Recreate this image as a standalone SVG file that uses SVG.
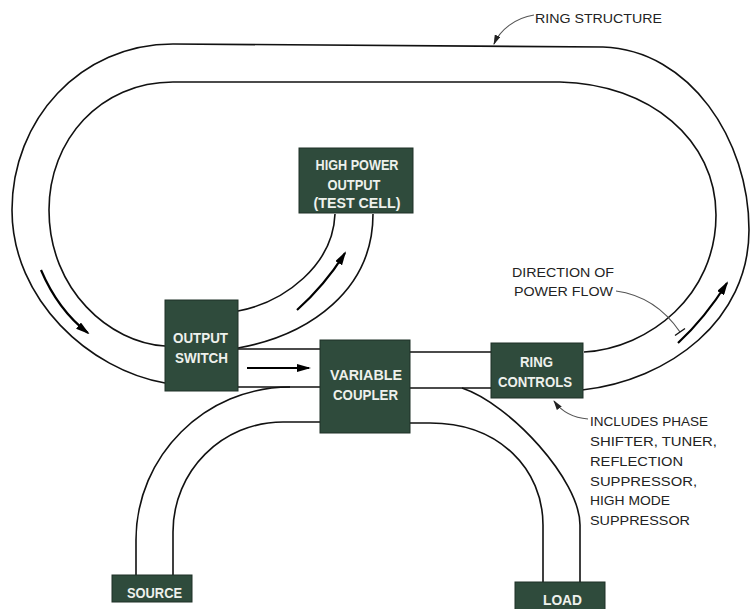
<svg xmlns="http://www.w3.org/2000/svg" width="752" height="609" viewBox="0 0 752 609">
<style>
.wg{fill:none;stroke:#111;stroke-width:1.6}
.flow{fill:none;stroke:#000;stroke-width:2.2}
.lead{fill:none;stroke:#555;stroke-width:1.2}
.box{fill:#2f4b3c;stroke:#1e3127;stroke-width:1}
.bt{font-family:"Liberation Sans",Arial,sans-serif;font-weight:bold;font-size:14px;fill:#eef1ec;text-anchor:middle}
.lt{font-family:"Liberation Sans",Arial,sans-serif;font-size:13.5px;fill:#222}
</style>
<defs>
<marker id="ah" viewBox="0 0 14 8" refX="12" refY="4" markerWidth="14" markerHeight="8" markerUnits="userSpaceOnUse" orient="auto">
<path d="M0,0 L14,4 L0,8 z" fill="#000"/>
</marker>
<marker id="lh" viewBox="0 0 10 6" refX="9" refY="3" markerWidth="10" markerHeight="6" markerUnits="userSpaceOnUse" orient="auto">
<path d="M0,0 L10,3 L0,6 z" fill="#222"/>
</marker>
</defs>
<rect width="752" height="609" fill="#fff"/>
<g id="connectors">
<path class="wg" d="M165,383 C90,370 12,300 12,210 C12,120 80,44 173,44 L603,47 C690,50 749,140 749,230 C749,320 670,380 582,390"/>
<path class="wg" d="M165,346 C110,343 49,290 49,210 C49,140 100,82 173,82 L560,82 C650,84 716,140 716,215 C716,295 650,348 584,352"/>
<path class="wg" d="M238,349 L320,349 M238,387 L320,387 M410,352 L491,352 M410,388 L492,388"/>
<path class="wg" d="M238,311 C285,302 333,265 335,214"/>
<path class="wg" d="M238,348 C310,335 373,290 373,214"/>
<path class="wg" d="M290,387 C205,387 136,456 136,540 L136,576"/>
<path class="wg" d="M320,422 L283,422 C222,422 173,471 173,532 L173,576"/>
<path class="wg" d="M462,388 C510,404 580,480 580,525 L580,583"/>
<path class="wg" d="M408,423 L430,423 C500,423 543,470 543,525 L543,583"/>
<path class="flow" d="M41,270 Q58,310 88,333" marker-end="url(#ah)"/>
<path class="flow" d="M247,368 L309,368" marker-end="url(#ah)"/>
<path class="flow" d="M297,310 Q325,285 345,253" marker-end="url(#ah)"/>
<path class="flow" d="M678,343 Q705,318 727,283" marker-end="url(#ah)"/>
<path class="lead" d="M534,15 C515,18 500,30 494,44" marker-end="url(#lh)"/>
<path class="lead" d="M616,291 C645,295 665,310 680,332"/>
<path class="wg" style="stroke-width:1.4" d="M675,335.5 L685,328.5"/>
<path class="lead" d="M588,419 C575,418 562,412 554,401" marker-end="url(#lh)"/>
</g>
<g id="high-power-output">
<rect class="box" x="299" y="148" width="114" height="65"/>
<text class="bt" x="357" y="170" textLength="83" lengthAdjust="spacingAndGlyphs">HIGH POWER</text>
<text class="bt" x="354" y="190" textLength="53" lengthAdjust="spacingAndGlyphs">OUTPUT</text>
<text class="bt" x="357" y="208" textLength="87" lengthAdjust="spacingAndGlyphs">(TEST CELL)</text>
</g>
<g id="output-switch">
<rect class="box" x="165" y="300" width="73" height="91"/>
<text class="bt" x="200.5" y="343" textLength="55" lengthAdjust="spacingAndGlyphs">OUTPUT</text>
<text class="bt" x="201.5" y="363" textLength="53" lengthAdjust="spacingAndGlyphs">SWITCH</text>
</g>
<g id="variable-coupler">
<rect class="box" x="320" y="340" width="90" height="93"/>
<text class="bt" x="366" y="380" textLength="72" lengthAdjust="spacingAndGlyphs">VARIABLE</text>
<text class="bt" x="365.5" y="400" textLength="65" lengthAdjust="spacingAndGlyphs">COUPLER</text>
</g>
<g id="ring-controls">
<rect class="box" x="491" y="343" width="92" height="55"/>
<text class="bt" x="536.5" y="367" textLength="33" lengthAdjust="spacingAndGlyphs">RING</text>
<text class="bt" x="535" y="387" textLength="74" lengthAdjust="spacingAndGlyphs">CONTROLS</text>
</g>
<g id="source">
<rect class="box" x="112" y="575" width="80" height="27"/>
<text class="bt" x="154.5" y="598" textLength="55" lengthAdjust="spacingAndGlyphs">SOURCE</text>
</g>
<g id="load">
<rect class="box" x="515" y="582" width="90" height="30"/>
<text class="bt" x="562.5" y="605" textLength="39" lengthAdjust="spacingAndGlyphs">LOAD</text>
</g>
<g id="labels">
<text class="lt" x="535" y="23" textLength="127" lengthAdjust="spacingAndGlyphs">RING STRUCTURE</text>
<text class="lt" x="512" y="277" textLength="102" lengthAdjust="spacingAndGlyphs">DIRECTION OF</text>
<text class="lt" x="514" y="296" textLength="99" lengthAdjust="spacingAndGlyphs">POWER FLOW</text>
<text class="lt" x="590" y="426" textLength="118" lengthAdjust="spacingAndGlyphs">INCLUDES PHASE</text>
<text class="lt" x="590" y="446" textLength="127" lengthAdjust="spacingAndGlyphs">SHIFTER, TUNER,</text>
<text class="lt" x="590" y="466" textLength="93" lengthAdjust="spacingAndGlyphs">REFLECTION</text>
<text class="lt" x="590" y="486" textLength="107" lengthAdjust="spacingAndGlyphs">SUPPRESSOR,</text>
<text class="lt" x="590" y="505" textLength="80" lengthAdjust="spacingAndGlyphs">HIGH MODE</text>
<text class="lt" x="590" y="525" textLength="100" lengthAdjust="spacingAndGlyphs">SUPPRESSOR</text>
</g>
</svg>
